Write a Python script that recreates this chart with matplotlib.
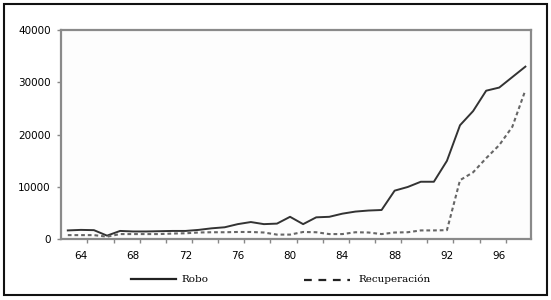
import numpy as np
import matplotlib.pyplot as plt
from matplotlib.lines import Line2D
from matplotlib.patches import Rectangle

# Datos: robo y recuperacion por anio (63-98)
anios = np.arange(63, 99)
robo = [1700, 1800, 1750, 700, 1600, 1500, 1500, 1550, 1600, 1600,
        1800, 2100, 2300, 2900, 3300, 2900, 3000, 4300, 2900, 4200,
        4300, 4900, 5300, 5500, 5600, 9300, 10000, 11000, 11000, 15000,
        21800, 24500, 28400, 29000, 31000, 33000]
recuperacion = [800, 800, 800, 500, 1000, 1000, 1000, 1000, 1100, 1150,
                1300, 1350, 1350, 1400, 1400, 1300, 900, 900, 1400, 1350,
                1000, 1000, 1350, 1300, 1000, 1300, 1350, 1700, 1700, 1750,
                11300, 12800, 15500, 18000, 21500, 28500]
x_labels = [64, 68, 72, 76, 80, 84, 88, 92, 96]
y_ticks = [0, 10000, 20000, 30000, 40000]

fig = plt.figure(figsize=(5.51, 3.0), dpi=100)
ax = fig.add_axes([0.110, 0.2023, 0.853, 0.6977])

ax.plot(anios, robo, color='#333333', lw=1.4)
ax.plot(anios, recuperacion, color='#666666', lw=1.5, dashes=(1.8, 1.4))

ax.set_xlim(62.45, 98.4)
ax.set_ylim(0, 40000)
ax.set_yticks(y_ticks)
ax.set_yticklabels([str(v) for v in y_ticks])
ax.set_xticks(x_labels)
ax.set_xticklabels([str(v) for v in x_labels])
ax.set_xticks(np.arange(64.5, 97, 2), minor=True)

ax.tick_params(axis='x', which='major', length=0, pad=8.5, labelsize=7.5)
ax.tick_params(axis='x', which='minor', length=3, width=1, color='#888888')
ax.tick_params(axis='y', length=3, width=1, color='#888888', pad=4, labelsize=7.5)

for s in ax.spines.values():
    s.set_color('#8a8a8a')
    s.set_linewidth(1.6)
ax.set_facecolor('#fdfdfd')

# leyenda debajo del grafico
fig.add_artist(Line2D([130.6 / 551, 176 / 551], [1 - 279 / 300] * 2,
                      color='#222222', lw=1.6))
fig.text(181.5 / 551, 1 - 279 / 300, 'Robo', family='DejaVu Serif',
         fontsize=7.5, va='center')
fig.add_artist(Line2D([303.5 / 551, 350 / 551], [1 - 280 / 300] * 2,
                      color='#222222', lw=1.6, dashes=(3.5, 3)))
fig.text(358.5 / 551, 1 - 279 / 300, 'Recuperación', family='DejaVu Serif',
         fontsize=7.5, va='center')

# marco exterior
fig.add_artist(Rectangle((4 / 551, 5 / 300), 543 / 551, 291 / 300,
                         transform=fig.transFigure, fill=False,
                         edgecolor='#111111', lw=1.5))

fig.savefig('out.png', dpi=100)
